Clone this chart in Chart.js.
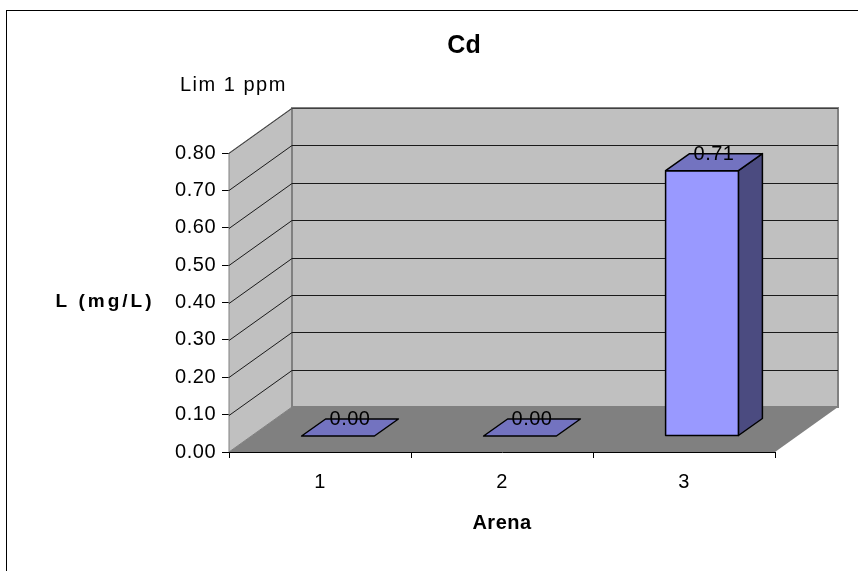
<!DOCTYPE html>
<html>
<head>
<meta charset="utf-8">
<script src="https://cdn.jsdelivr.net/npm/chart.js@4.4.1/dist/chart.umd.min.js"></script>
<style>
  html, body { margin: 0; padding: 0; background: #fff; }
  #wrap { width: 858px; height: 571px; position: relative; }
</style>
</head>
<body>
<div id="wrap"><canvas id="cdChart"></canvas></div>
<script>
const categories = ['1', '2', '3']
const values = [0.00, 0.00, 0.71]
const yMin = 0
const yMax = 0.8
const yStep = 0.1

const FONT = 'Liberation Sans, Arial, sans-serif'

// depth of the "3d" box and of the bars
const WALL_DX = 63, WALL_DY = -45
const BAR_SX = 18, BAR_SY = -16
const BAR_DX = 24, BAR_DY = -17

// excel text is a bit spread out
const spacing = {
  id: 'spacing',
  beforeLayout(chart) { chart.ctx.letterSpacing = '0.5px' },
  beforeDraw(chart) { chart.ctx.letterSpacing = '0.5px' }
}

const box3d = {
  id: 'box3d',
  beforeDatasetsDraw(chart) {
    const ctx = chart.ctx
    const { left: L, right: R, top: T, bottom: B } = chart.chartArea
    const y = chart.scales.y
    ctx.save()
    ctx.lineWidth = 1

    // left wall
    ctx.beginPath()
    ctx.moveTo(L, B); ctx.lineTo(L + WALL_DX, B + WALL_DY)
    ctx.lineTo(L + WALL_DX, T + WALL_DY); ctx.lineTo(L, T); ctx.closePath()
    ctx.fillStyle = '#c0c0c0'; ctx.fill()
    ctx.strokeStyle = '#808080'; ctx.stroke()

    // back wall
    ctx.beginPath()
    ctx.rect(L + WALL_DX, T + WALL_DY, R - L, B - T)
    ctx.fillStyle = '#c0c0c0'; ctx.fill()
    ctx.strokeStyle = '#808080'; ctx.lineWidth = 2; ctx.stroke()
    ctx.lineWidth = 1

    // floor
    ctx.beginPath()
    ctx.moveTo(L, B); ctx.lineTo(R, B)
    ctx.lineTo(R + WALL_DX, B + WALL_DY); ctx.lineTo(L + WALL_DX, B + WALL_DY); ctx.closePath()
    ctx.fillStyle = '#808080'; ctx.fill()

    // grid lines on both walls
    y.ticks.forEach(t => {
      if (t.value <= yMin) return
      const py = Math.round(y.getPixelForValue(t.value)) + 0.5
      ctx.beginPath()
      ctx.moveTo(L, py)
      ctx.lineTo(L + WALL_DX, py + WALL_DY)
      ctx.lineTo(R + WALL_DX, py + WALL_DY)
      ctx.strokeStyle = t.value >= yMax ? '#404040' : '#1a1a1a'
      ctx.stroke()
    })
    ctx.restore()
  },
  afterDatasetsDraw(chart) {
    const ctx = chart.ctx
    const meta = chart.getDatasetMeta(0)
    const ds = chart.data.datasets[0].data
    ctx.save()
    ctx.lineWidth = 1.5
    ctx.strokeStyle = '#000'
    ctx.lineJoin = 'round'
    meta.data.forEach((bar, i) => {
      const p = bar.getProps(['x', 'y', 'base', 'width'], true)
      const x0 = p.x - p.width / 2 + BAR_SX
      const x1 = p.x + p.width / 2 + BAR_SX
      const yt = p.y + BAR_SY
      const yb = p.base + BAR_SY
      if (yb - yt > 0.5) {
        // side
        ctx.beginPath()
        ctx.moveTo(x1, yt); ctx.lineTo(x1 + BAR_DX, yt + BAR_DY)
        ctx.lineTo(x1 + BAR_DX, yb + BAR_DY); ctx.lineTo(x1, yb); ctx.closePath()
        ctx.fillStyle = '#4b4b80'; ctx.fill(); ctx.stroke()
        // front
        ctx.beginPath()
        ctx.rect(x0, yt, x1 - x0, yb - yt)
        ctx.fillStyle = '#9999ff'; ctx.fill(); ctx.stroke()
      }
      // top
      ctx.beginPath()
      ctx.moveTo(x0, yt); ctx.lineTo(x1, yt)
      ctx.lineTo(x1 + BAR_DX, yt + BAR_DY); ctx.lineTo(x0 + BAR_DX, yt + BAR_DY); ctx.closePath()
      ctx.fillStyle = '#7373c0'; ctx.fill(); ctx.stroke()

      // value label
      ctx.fillStyle = '#000'
      ctx.letterSpacing = '0.5px'
      ctx.font = '20px ' + FONT
      ctx.textAlign = 'center'
      ctx.textBaseline = 'middle'
      ctx.fillText(ds[i].toFixed(2), (x0 + x1 + BAR_DX) / 2, yt + BAR_DY / 2 - 8)
    })
    ctx.restore()
  },
  afterDraw(chart) {
    const ctx = chart.ctx
    ctx.save()
    // outer frame
    ctx.strokeStyle = '#000'
    ctx.lineWidth = 1
    ctx.strokeRect(6.5, 10.5, 900, 600)

    ctx.fillStyle = '#000'
    ctx.textBaseline = 'middle'
    ctx.textAlign = 'center'
    ctx.letterSpacing = '0px'
    ctx.font = 'bold 25px ' + FONT
    ctx.fillText('Cd', 464, 46)

    ctx.textAlign = 'left'
    ctx.letterSpacing = '1.5px'
    ctx.font = '20px ' + FONT
    ctx.fillText('Lim 1 ppm', 180, 85)

    ctx.textAlign = 'center'
    ctx.letterSpacing = '3px'
    ctx.font = 'bold 19px ' + FONT
    ctx.fillText('L (mg/L)', 105, 302)
    ctx.restore()
  }
}

new Chart(document.getElementById('cdChart'), {
  type: 'bar',
  data: {
    labels: categories,
    datasets: [{
      label: 'Cd',
      data: values,
      backgroundColor: 'rgba(0,0,0,0)',
      borderWidth: 0,
      categoryPercentage: 1,
      barPercentage: 0.4
    }]
  },
  options: {
    responsive: true,
    maintainAspectRatio: false,
    animation: false,
    layout: { padding: { left: 0, right: 83, top: 153, bottom: 0 } },
    plugins: {
      legend: { display: false },
      tooltip: { enabled: false },
      title: { display: false }
    },
    scales: {
      y: {
        min: yMin,
        max: yMax,
        ticks: {
          stepSize: yStep,
          color: '#000',
          padding: 6,
          font: { family: FONT, size: 20 },
          callback: v => Number(v).toFixed(2)
        },
        grid: { drawOnChartArea: false, drawTicks: true, tickLength: 7, color: '#000' },
        border: { color: '#000' },
        afterFit(scale) { scale.width = 229 }
      },
      x: {
        offset: true,
        ticks: { color: '#000', padding: 12, font: { family: FONT, size: 20 } },
        grid: { offset: true, drawOnChartArea: false, drawTicks: true, tickLength: 6, color: '#000' },
        border: { color: '#000' },
        title: {
          display: true,
          text: 'Arena',
          color: '#000',
          font: { family: FONT, size: 20, weight: 'bold' },
          padding: { top: 0, bottom: 36 }
        },
        afterFit(scale) { scale.height = 119 }
      }
    }
  },
  plugins: [spacing, box3d]
})
</script>
</body>
</html>
